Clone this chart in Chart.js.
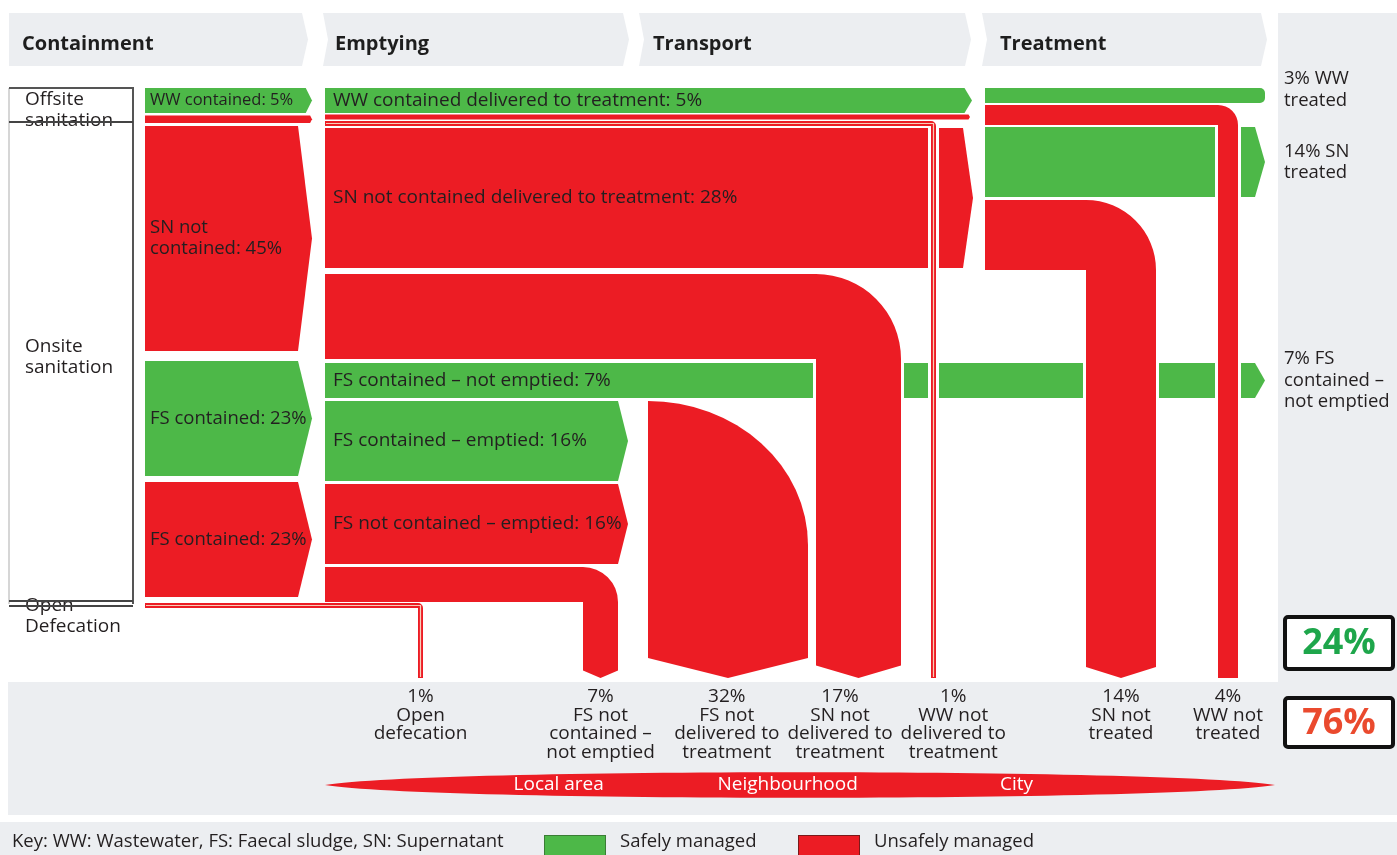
<!DOCTYPE html>
<html><head><meta charset="utf-8">
<script src="https://cdn.jsdelivr.net/npm/chart.js@4.4.1/dist/chart.umd.min.js"></script>
<style>html,body{margin:0;padding:0;background:#fff}#wrap{position:relative;width:1397px;height:855px}</style>
</head><body><div id="wrap"><canvas id="c"></canvas></div>
<script>
// ---------------- data ----------------
const stageNames = ['Containment', 'Emptying', 'Transport', 'Treatment'];
const systemLabels = ['Offsite\nsanitation', 'Onsite\nsanitation', 'Open\nDefecation'];

const containLabels = ['WW contained: 5%', '', 'SN not\ncontained: 45%', 'FS contained: 23%', 'FS contained: 23%', ''];
const containValues = [5, 1.5, 45, 23, 23, 1];
const containSafe = [true, false, false, true, false, false];

const emptyLabels = ['WW contained delivered to treatment: 5%', '', '', 'SN not contained delivered to treatment: 28%', '',
  'FS contained – not emptied: 7%', 'FS contained – emptied: 16%', 'FS not contained – emptied: 16%', ''];
const emptyValues = [5, 1, 1, 28, 17, 7, 16, 16, 7];
const emptySafe = [true, false, false, false, false, true, true, false, false];

const treatValues = [3, 4, 14, 14];
const treatSafe = [true, false, true, false];

const treatedLabels = ['3% WW\ntreated', '14% SN\ntreated', '7% FS\ncontained –\nnot emptied'];
const treatedValues = [3, 14, 7];

const outcomeLabels = ['1%\nOpen\ndefecation', '7%\nFS not\ncontained –\nnot emptied', '32%\nFS not\ndelivered to\ntreatment',
  '17%\nSN not\ndelivered to\ntreatment', '1%\nWW not\ndelivered to\ntreatment', '14%\nSN not\ntreated', '4%\nWW not\ntreated'];
const outcomeValues = [1, 7, 32, 17, 1, 14, 4];

const totalValues = [24, 76];
const zoneLabels = ['Local area', 'Neighbourhood', 'City'];
const keyLabels = ['Key: WW: Wastewater, FS: Faecal sludge, SN: Supernatant', 'Safely managed', 'Unsafely managed'];

// ---------------- styles ----------------
const GREEN = '#4db848', RED = '#ec1c24', GRAY = '#eceef1', INK = '#231f20';
const FONT = '"Open Sans", "Noto Sans", sans-serif';

function txt(ctx, s, x, y, o = {}) {
  const size = o.size || 19, weight = o.weight || 'normal', lh = o.lh || 21;
  ctx.font = `${weight} ${size}px ${FONT}`;
  ctx.fillStyle = o.color || INK;
  ctx.textAlign = o.align || 'left';
  ctx.textBaseline = 'middle';
  const lines = s.split('\n');
  const y0 = o.top ? y : y - (lines.length - 1) * lh / 2;
  lines.forEach((l, i) => ctx.fillText(l, x, y0 + i * lh));
}
function hBar(ctx, x0, xTip, y0, t, tip, color) {
  const xb = xTip - tip;
  ctx.beginPath();
  ctx.moveTo(x0, y0); ctx.lineTo(xb, y0); ctx.lineTo(xTip, y0 + t / 2);
  ctx.lineTo(xb, y0 + t); ctx.lineTo(x0, y0 + t); ctx.closePath();
  ctx.fillStyle = color; ctx.fill();
}
function chevBand(ctx, x0, x1, y0, y1, pt, notch) {
  ctx.beginPath();
  ctx.moveTo(x0, y0); ctx.lineTo(x1 - pt, y0); ctx.lineTo(x1, (y0 + y1) / 2);
  ctx.lineTo(x1 - pt, y1); ctx.lineTo(x0, y1); ctx.lineTo(x0 + notch, (y0 + y1) / 2); ctx.closePath();
  ctx.fill();
}
function elbow(ctx, x0, y0, t, xv, w, yEnd, color, halo, outline) {
  const tip = w >= 30 ? Math.min(20, 4 + w * 0.1) : 0;
  if (halo) { ctx.fillStyle = '#fff'; ctx.fillRect(xv - halo, y0 + t, w + 2 * halo, yEnd - (y0 + t)); }
  const r = Math.min(w, t);
  ctx.beginPath();
  ctx.moveTo(x0, y0);
  ctx.lineTo(xv + w - r, y0);
  ctx.arc(xv + w - r, y0 + r, r, -Math.PI / 2, 0);
  ctx.lineTo(xv + w, yEnd - tip);
  ctx.lineTo(xv + w / 2, yEnd);
  ctx.lineTo(xv, yEnd - tip);
  ctx.lineTo(xv, y0 + t);
  ctx.lineTo(x0, y0 + t);
  ctx.closePath();
  ctx.fillStyle = color; ctx.fill();
  if (outline) {
    ctx.beginPath();
    ctx.moveTo(x0 + 1, y0 + t / 2); ctx.lineTo(xv + w / 2, y0 + t / 2); ctx.lineTo(xv + w / 2, yEnd - 1);
    ctx.strokeStyle = '#f8cdb8'; ctx.lineWidth = 1.2; ctx.stroke();
  }
}
function stack(values, start, gaps, T) {
  const tops = []; let y = start;
  values.forEach((v, i) => { tops.push(y); y += T(v) + (gaps[i] || 0); });
  return tops;
}

const flowPlugin = {
  id: 'flows',
  afterDraw(chart) {
    const ctx = chart.ctx;
    const sx = chart.scales.x, sy = chart.scales.y, sp = chart.scales.p;
    const X = v => sx.getPixelForValue(v);
    const Y = v => sy.getPixelForValue(v);
    const T = v => sp.getPixelForValue(v) - sp.getPixelForValue(0);
    ctx.save();

    // backgrounds
    ctx.fillStyle = '#fff'; ctx.fillRect(X(0), Y(0), X(1397) - X(0), Y(855) - Y(0));
    ctx.fillStyle = GRAY;
    ctx.fillRect(X(1278), Y(13), X(1397) - X(1278), Y(682) - Y(13));
    ctx.fillRect(X(8), Y(682), X(1397) - X(8), Y(815) - Y(682));
    ctx.fillRect(X(0), Y(822), X(1397) - X(0), Y(855) - Y(822));

    // header chevrons
    const bands = [[9, 308], [323, 629], [639, 971], [982, 1267]];
    const headX = [22, 335, 653, 1000];
    bands.forEach((b, i) => {
      ctx.fillStyle = GRAY;
      chevBand(ctx, X(b[0]), X(b[1]), Y(13), Y(66), 6, i ? 5 : 0);
      txt(ctx, stageNames[i], X(headX[i]), Y(44), { size: 20, weight: 'bold', color: '#1e1e1e' });
    });

    // system box
    ctx.fillStyle = '#fff'; ctx.fillRect(X(9), Y(88), X(133) - X(9), Y(604) - Y(88));
    ctx.strokeStyle = '#c8c8c8'; ctx.lineWidth = 1.5;
    ctx.beginPath(); ctx.moveTo(X(9), Y(88)); ctx.lineTo(X(9), Y(604)); ctx.stroke();
    ctx.strokeStyle = '#555'; ctx.lineWidth = 2;
    ctx.beginPath(); ctx.moveTo(X(9), Y(88)); ctx.lineTo(X(133), Y(88)); ctx.lineTo(X(133), Y(604)); ctx.stroke();
    txt(ctx, systemLabels[0], X(25), Y(110));
    txt(ctx, systemLabels[1], X(25), Y(357));
    txt(ctx, systemLabels[2], X(25), Y(616));
    ctx.strokeStyle = '#444'; ctx.lineWidth = 2;
    [122, 601, 606].forEach(yy => { ctx.beginPath(); ctx.moveTo(X(9), Y(yy)); ctx.lineTo(X(133), Y(yy)); ctx.stroke(); });

    // containment column
    const cTop = stack(containValues, 88, [2.5, 3, 10, 6, 6], T);
    for (let i = 0; i < 5; i++) {
      const t = T(containValues[i]);
      hBar(ctx, X(145), X(312), Y(cTop[i]), t, Math.min(14, t * 0.25), containSafe[i] ? GREEN : RED);
    }
    txt(ctx, containLabels[0], X(150), Y(cTop[0]) + T(containValues[0]) / 2, { size: 16.5 });
    [2, 3, 4].forEach(i => txt(ctx, containLabels[i], X(150), Y(cTop[i]) + T(containValues[i]) / 2, { size: 18.5 }));

    // emptying / transport horizontal bars
    const eTop = stack(emptyValues, 88, [1.5, 1.5, 2, 6, 4, 3, 3, 3], T);
    const eTips = { 0: 972, 1: 970, 3: 973, 5: 1265, 6: 628, 7: 628 };
    Object.keys(eTips).forEach(k => {
      const i = +k, t = T(emptyValues[i]);
      hBar(ctx, X(325), X(eTips[k]), Y(eTop[i]), t, Math.min(10, t * 0.3), emptySafe[i] ? GREEN : RED);
    });

    // treatment horizontal bars
    const tTop = stack(treatValues, 88, [2, 2, 3], T);
    ctx.fillStyle = GREEN; ctx.beginPath();
    ctx.roundRect(X(985), Y(tTop[0]), X(1265) - X(985), T(treatValues[0]), [0, 5, 5, 0]); ctx.fill();
    hBar(ctx, X(985), X(1265), Y(tTop[2]), T(treatValues[2]), 10, GREEN);

    // 32% FS not delivered (transport)
    {
      const w = T(outcomeValues[2]), x0 = X(648), y0 = Y(eTop[6]), ry = w * 0.9, yEnd = Y(678);
      const tip = Math.min(20, 4 + w * 0.1);
      ctx.beginPath(); ctx.moveTo(x0, y0);
      ctx.ellipse(x0, y0 + ry, w, ry, 0, -Math.PI / 2, 0);
      ctx.lineTo(x0 + w, yEnd - tip); ctx.lineTo(x0 + w / 2, yEnd); ctx.lineTo(x0, yEnd - tip); ctx.closePath();
      ctx.fillStyle = RED; ctx.fill();
    }

    // elbows to outcomes
    const yEnd = Y(678);
    const vx = [418, 583, 648, 816, 931, 1086, 1218];
    elbow(ctx, X(145), Y(cTop[5]), T(containValues[5]), X(vx[0]), T(outcomeValues[0]), yEnd, RED, 0, true);
    elbow(ctx, X(325), Y(eTop[8]), T(emptyValues[8]), X(vx[1]), T(outcomeValues[1]), yEnd, RED, 3, false);
    elbow(ctx, X(325), Y(eTop[4]), T(emptyValues[4]), X(vx[3]), T(outcomeValues[3]), yEnd, RED, 3, false);
    elbow(ctx, X(325), Y(eTop[2]), T(emptyValues[2]), X(vx[4]), T(outcomeValues[4]), yEnd, RED, 3, true);
    elbow(ctx, X(985), Y(tTop[3]), T(treatValues[3]), X(vx[5]), T(outcomeValues[5]), yEnd, RED, 3, false);
    elbow(ctx, X(985), Y(tTop[1]), T(treatValues[1]), X(vx[6]), T(outcomeValues[6]), yEnd, RED, 3, false);

    // emptying labels
    [0, 3, 5, 6, 7].forEach(i => txt(ctx, emptyLabels[i], X(333), Y(eTop[i]) + T(emptyValues[i]) / 2));

    // treated labels (right column)
    const treatedY = [Y(tTop[0]) + T(treatValues[0]) / 2 - 6, Y(tTop[2]) + T(treatValues[2]) / 2, Y(eTop[5]) + T(emptyValues[5]) / 2];
    treatedLabels.forEach((s, i) => txt(ctx, s, X(1284), treatedY[i], { lh: 21.5, size: 18.5 }));

    // outcome labels, spread apart to avoid overlap
    ctx.font = `normal 19px ${FONT}`;
    const cx = outcomeValues.map((v, i) => X(vx[i]) + T(v) / 2);
    const wid = outcomeLabels.map(s => Math.max(...s.split('\n').map(l => ctx.measureText(l).width)));
    for (let it = 0; it < 60; it++) {
      for (let i = 0; i < cx.length - 1; i++) {
        const d = (cx[i + 1] - cx[i]) - (wid[i] + wid[i + 1]) / 2 - 8;
        if (d < 0) { cx[i] += d / 2; cx[i + 1] -= d / 2; }
      }
    }
    outcomeLabels.forEach((s, i) => txt(ctx, s, cx[i], Y(697), { align: 'center', lh: 18.5, top: true, size: 19 }));

    // zone lens
    const lx0 = X(325), lx1 = X(1275), ly = Y(785);
    ctx.beginPath(); ctx.moveTo(lx0, ly);
    ctx.bezierCurveTo(lx0 + 105, ly - 17, lx1 - 105, ly - 17, lx1, ly);
    ctx.bezierCurveTo(lx1 - 105, ly + 17, lx0 + 105, ly + 17, lx0, ly);
    ctx.fillStyle = RED; ctx.fill();
    zoneLabels.forEach((s, i) => txt(ctx, s, lx0 + (lx1 - lx0) * (0.246 + 0.241 * i), ly, { align: 'center', color: '#fff', size: 19 }));

    // totals
    const boxY = [617, 698], boxH = [52, 49], totCol = ['#1ea64b', '#ea4a2e'];
    totalValues.forEach((v, i) => {
      ctx.beginPath(); ctx.roundRect(X(1285), Y(boxY[i]), X(1393) - X(1285), boxH[i], 3);
      ctx.fillStyle = '#fff'; ctx.fill(); ctx.lineWidth = 4; ctx.strokeStyle = '#111'; ctx.stroke();
      txt(ctx, v + '%', X(1339), Y(boxY[i]) + boxH[i] / 2 + 1, { size: 36, weight: 'bold', color: totCol[i], align: 'center' });
    });

    // key
    txt(ctx, keyLabels[0], X(12), Y(842), { size: 18.5 });
    [[544, GREEN, '#3a7d35'], [798, RED, '#7a1a1a']].forEach((k, i) => {
      ctx.fillStyle = k[1]; ctx.fillRect(X(k[0]), Y(835), 62, 21);
      ctx.strokeStyle = k[2]; ctx.lineWidth = 1; ctx.strokeRect(X(k[0]) + 0.5, Y(835) + 0.5, 61, 21);
      txt(ctx, keyLabels[i + 1], X(k[0] + 76), Y(842), { size: 18.5 });
    });
    ctx.restore();
  }
};

new Chart(document.getElementById('c'), {
  type: 'scatter',
  data: { datasets: [{ data: [], pointRadius: 0 }] },
  options: {
    responsive: true, maintainAspectRatio: false, animation: false,
    layout: { padding: 0 },
    plugins: { legend: { display: false }, tooltip: { enabled: false }, title: { display: false } },
    scales: {
      x: { type: 'linear', min: 0, max: 1397, display: false },
      y: { type: 'linear', min: 0, max: 855, reverse: true, display: false },
      p: { type: 'linear', axis: 'y', min: 0, max: 171, reverse: true, display: false }
    }
  },
  plugins: [flowPlugin]
});
</script></body></html>
